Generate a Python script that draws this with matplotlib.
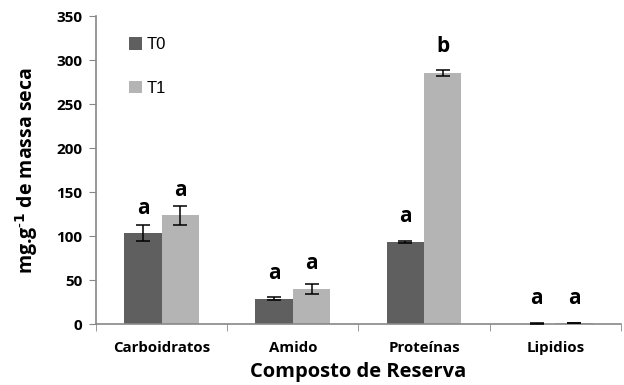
import numpy as np
import matplotlib.pyplot as plt

categorias = ["Carboidratos", "Amido", "Proteínas", "Lipidios"]
t0 = [103.5, 28.8, 93.3, 0.5]
t1 = [123.5, 40.0, 285.8, 1.2]
t0_err = [9.5, 1.8, 1.2, 0.3]
t1_err = [10.7, 5.8, 3.4, 0.4]
letras_t0 = ["a", "a", "a", "a"]
letras_t1 = ["a", "a", "b", "a"]
# altura (em unidades do eixo) onde vai cada letra
pos_t0 = [131.5, 58.0, 122.0, 29.5]
pos_t1 = [152.0, 69.0, 315.0, 29.5]

cor_t0 = "#5f5f5f"
cor_t1 = "#b4b4b4"
cor_eixo = "#888888"
fonte = "Open Sans"

fig = plt.figure(figsize=(6.24, 3.85), dpi=100)
ax = fig.add_axes([0.154, 0.158, 0.841, 0.8])

x = np.arange(len(categorias))
w = 0.285
ax.bar(x - w / 2, t0, w, color=cor_t0, label="T0", zorder=2)
ax.bar(x + w / 2, t1, w, color=cor_t1, label="T1", zorder=2)
ax.errorbar(x - w / 2, t0, yerr=t0_err, fmt="none", ecolor="black",
            elinewidth=1.1, capsize=5, capthick=1.1, zorder=3)
ax.errorbar(x + w / 2, t1, yerr=t1_err, fmt="none", ecolor="black",
            elinewidth=1.1, capsize=5, capthick=1.1, zorder=3)

for i in range(len(categorias)):
    ax.text(x[i] - w / 2, pos_t0[i], letras_t0[i], ha="center", va="center",
            fontsize=15, fontweight="bold", family=fonte)
    ax.text(x[i] + w / 2, pos_t1[i], letras_t1[i], ha="center", va="center",
            fontsize=15, fontweight="bold", family=fonte)

ax.set_xlim(-0.5, len(categorias) - 0.5)
ax.set_ylim(0, 350)
ax.set_yticks(np.arange(0, 351, 50))
ax.set_xticks(x)
ax.set_xticklabels(categorias, fontsize=10.8, fontweight="bold", family=fonte)
ax.set_xticks(np.arange(-0.5, len(categorias), 1), minor=True)
ax.tick_params(axis="x", which="major", length=0, pad=12)
ax.tick_params(axis="x", which="minor", length=5, direction="out", color=cor_eixo)
ax.tick_params(axis="y", length=5, direction="out", color=cor_eixo, pad=5)
for lab in ax.get_yticklabels():
    lab.set_fontsize(11)
    lab.set_fontweight("bold")
    lab.set_family(fonte)

for s in ["top", "right"]:
    ax.spines[s].set_visible(False)
for s in ["left", "bottom"]:
    ax.spines[s].set_color(cor_eixo)
    ax.spines[s].set_linewidth(1.2)

ax.set_xlabel("Composto de Reserva", fontsize=14.5, fontweight="bold",
              family=fonte, labelpad=5)
ax.set_ylabel(r"mg.g$^{\text{-}\mathbf{1}}$ de massa seca", fontsize=14,
              fontweight="bold", family=fonte, labelpad=12)

ax.legend(loc="upper left", bbox_to_anchor=(0.035, 0.98), frameon=False,
          prop={"family": "Liberation Sans", "size": 12},
          handlelength=0.75, handleheight=0.75, handletextpad=0.3,
          labelspacing=1.7)

fig.savefig("out.png", dpi=100)
